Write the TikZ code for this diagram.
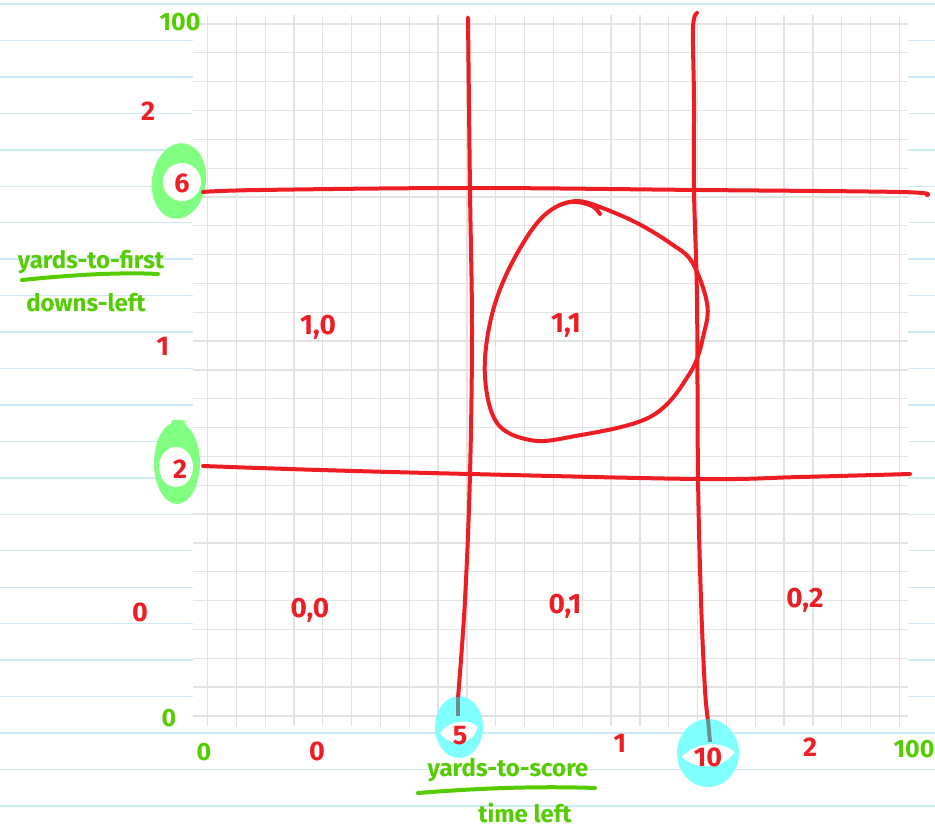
\documentclass[tikz,border=0pt]{standalone}
\usepackage{fontspec}
\setmainfont{Fira Sans}
\definecolor{pen}{HTML}{EE1D24}
\definecolor{grn}{HTML}{55CC00}
\definecolor{hlg}{HTML}{80FF80}
\definecolor{hlc}{HTML}{80FFFF}
\definecolor{rulec}{HTML}{CDE9F8}
\definecolor{gridc}{HTML}{E2E2E2}
\definecolor{mixc}{HTML}{6B8E93}
\begin{document}
\begin{tikzpicture}[x=1pt,y=-1pt,
  redline/.style={draw=pen, line width=4pt, line cap=round, line join=round},
  grnline/.style={draw=grn, line width=4pt, line cap=round},
  redtxt/.style={text=pen, inner sep=0pt, font=\fontsize{27}{27}\selectfont\bfseries},
  celltxt/.style={text=pen, inner sep=0pt, font=\fontsize{28}{28}\selectfont\bfseries},
  grnnum/.style={text=grn, inner sep=0pt, font=\fontsize{25}{25}\selectfont\bfseries},
  grnword/.style={text=grn, inner sep=0pt, font=\fontsize{24}{24}\selectfont\bfseries}]
\useasboundingbox (0,0) rectangle (935,830);
\fill[white] (0,0) rectangle (935,830);
% notebook rules
\foreach \k in {0,...,22} \draw[rulec, line width=1.4pt] (0,{4+36.45*\k}) -- (935,{4+36.45*\k});
% grid paper
\fill[white] (193,15) rectangle (908,726);
\foreach \k in {0,...,24} \draw[gridc, line width=1.3pt] ({207.5+28.83*\k},15) -- ({207.5+28.83*\k},726);
\foreach \k in {0,...,24} \draw[gridc, line width=1.3pt] (193,{24+28.83*\k}) -- (908,{24+28.83*\k});
% highlighter rings
\fill[hlg, rotate around={-8:(179,181)}] (179,181) ellipse [x radius=27, y radius=38];
\fill[white] (182,182) ellipse [x radius=19, y radius=19];
\fill[hlg] (177,463) ellipse [x radius=23, y radius=41];
\fill[hlg, rounded corners=3pt] (171,420) rectangle (185,440);
\fill[white] (176,467) ellipse [x radius=17, y radius=20];
\fill[hlc] (459,727) ellipse [x radius=24, y radius=31];
\fill[white] (440,733) .. controls (450,720) and (468,718) .. (478,727) .. controls (472,746) and (450,748) .. (440,733) -- cycle;
\fill[hlc] (708,753) ellipse [x radius=31, y radius=34];
\fill[white] (682,757) .. controls (695,742) and (720,740) .. (735,752) .. controls (722,770) and (695,770) .. (682,757) -- cycle;
% red division lines
\draw[redline] plot[smooth, tension=0.6] coordinates {(203,192) (260,190) (470,188) (700,190) (900,192) (927,195)};
\draw[redline] plot[smooth, tension=0.6] coordinates {(203,466) (320,470) (470,474) (700,479) (800,477) (910,474)};
\draw[redline] plot[smooth, tension=0.6] coordinates {(468,18) (470,190) (472,330) (470,474) (465,600) (458,698)};
\draw[redline] plot[smooth, tension=0.6] coordinates {(697,13) (693,28) (694,100) (694,190) (697,300) (698,475) (701,600) (705,690) (708,720)};
\draw[mixc, line width=4pt] (458,697) -- (458,716);
\draw[mixc, line width=4pt] (708,719) -- (710,742);
% loop around 1,1
\draw[redline] plot[smooth, tension=0.6] coordinates {(600,214) (590,205) (565,203) (537,223) (507,273) (490,323) (485,377) (497,423) (530,440) (570,437) (650,417) (690,373) (704,333) (707,303) (692,262) (670,243) (637,223) (600,207) (578,201) (560,205)};
% red labels
\node[redtxt] (r2) at (148,111) {2};
\node[redtxt] (r6) at (182,183) {6};
\node[redtxt] (r1) at (163,346) {1};
\node[redtxt] (rtwo) at (180,469) {2};
\node[redtxt] (r0) at (140,612) {0};
\node[redtxt] (b0) at (317,751) {0};
\node[redtxt] (b5) at (460,736) {5};
\node[redtxt] (b1) at (620,743) {1};
\node[redtxt] (b10) at (708,757) {10};
\node[redtxt] (b2) at (810,747) {2};
\node[celltxt] (c10) at (318,327) {1,0};
\node[celltxt] (c11) at (566,326) {1,1};
\node[celltxt] (c00) at (310,610) {0,0};
\node[celltxt] (c01) at (565,606) {0,1};
\node[celltxt] (c02) at (805,600) {0,2};
% green labels
\node[grnnum] (g100a) at (180,22) {100};
\node[grnnum] (g0a) at (169,718) {0};
\node[grnnum] (g0b) at (204,752) {0};
\node[grnnum] (g100b) at (914,749) {100};
\node[grnword] (yf) at (91,262) {yards-to-first};
\node[grnword] (dl) at (86,303) {downs-left};
\draw[grnline] (22,280) .. controls (70,275) and (120,272) .. (158,274);
\node[grnword] (ys) at (508,770) {yards-to-score};
\node[grnword] (tl) at (525,813) {time left};
\draw[grnline] (418,793) .. controls (480,788) and (540,786) .. (595,788);
\end{tikzpicture}
\end{document}
